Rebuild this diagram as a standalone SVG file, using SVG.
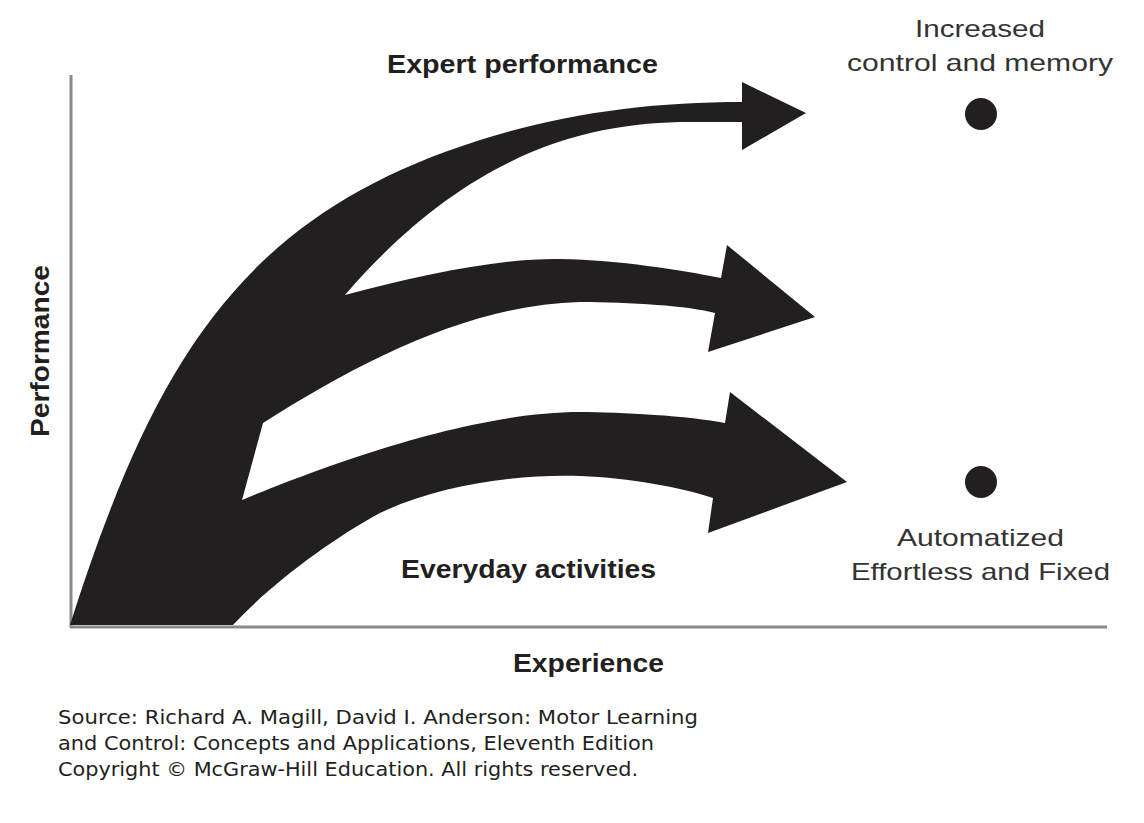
<svg xmlns="http://www.w3.org/2000/svg" width="1144" height="823" viewBox="0 0 1144 823">
  <style>
    .axis { stroke: #8a8a8a; stroke-width: 3; fill: none; }
    .shape { fill: #231f20; }
    .bold { font-family: "Liberation Sans", Arial, sans-serif; font-weight: bold; font-size: 25px; fill: #231f20; }
    .reg { font-family: "Liberation Sans", Arial, sans-serif; font-size: 24px; fill: #333333; }
    .src { font-family: "DejaVu Sans", Verdana, sans-serif; font-size: 19px; fill: #231f20; }
  </style>
  <rect width="1144" height="823" fill="#ffffff"/>
  <g id="axes">
    <line class="axis" x1="71" y1="75" x2="71" y2="628"/>
    <line class="axis" x1="70" y1="627" x2="1107" y2="627"/>
  </g>
  <g id="connectors">
    <path class="shape" d="M70,625 C155,358.4 242.5,215 480,140 C565.5,113 652,102 742,102 L742,82 L806,113 L742,150 L742,122 L690,122 C590,122 470,150 345,295 C420,275 500,258 560,259 C620,260 680,270 721,278 L727,245 L815,317 L708,352 L715,313 C690,306 630,302 580,302 C470,305 363,360 263,423 L242,500 C300,476 460,412 580,412 C620,412 690,416 725,423 L730,392 L847,482 L708,533 L713,498 C680,487 630,478 580,476 C520,474 440,484 380,513 C330,540 270,585 233,625 Z"/>
  </g>
  <g id="node-expert">
    <text class="bold" x="387" y="73" textLength="271" lengthAdjust="spacingAndGlyphs">Expert performance</text>
  </g>
  <g id="node-everyday">
    <text class="bold" x="401" y="578" textLength="255" lengthAdjust="spacingAndGlyphs">Everyday activities</text>
  </g>
  <g id="node-experience">
    <text class="bold" x="513" y="672" textLength="151" lengthAdjust="spacingAndGlyphs">Experience</text>
  </g>
  <g id="node-performance">
    <text class="bold" transform="translate(49,437) rotate(-90)" x="0" y="0" textLength="172" lengthAdjust="spacingAndGlyphs">Performance</text>
  </g>
  <g id="node-increased">
    <text class="reg" x="915" y="37" textLength="130" lengthAdjust="spacingAndGlyphs">Increased</text>
    <text class="reg" x="847" y="71" textLength="266" lengthAdjust="spacingAndGlyphs">control and memory</text>
    <circle cx="981" cy="114" r="16" fill="#231f20"/>
  </g>
  <g id="node-automatized">
    <circle cx="981" cy="482" r="16" fill="#231f20"/>
    <text class="reg" x="897" y="546" textLength="167" lengthAdjust="spacingAndGlyphs">Automatized</text>
    <text class="reg" x="851" y="580" textLength="259" lengthAdjust="spacingAndGlyphs">Effortless and Fixed</text>
  </g>
  <g id="source">
    <text class="src" x="58" y="724" textLength="640" lengthAdjust="spacingAndGlyphs">Source: Richard A. Magill, David I. Anderson: Motor Learning</text>
    <text class="src" x="58" y="750" textLength="596" lengthAdjust="spacingAndGlyphs">and Control: Concepts and Applications, Eleventh Edition</text>
    <text class="src" x="58" y="776" textLength="580" lengthAdjust="spacingAndGlyphs">Copyright © McGraw-Hill Education. All rights reserved.</text>
  </g>
</svg>
